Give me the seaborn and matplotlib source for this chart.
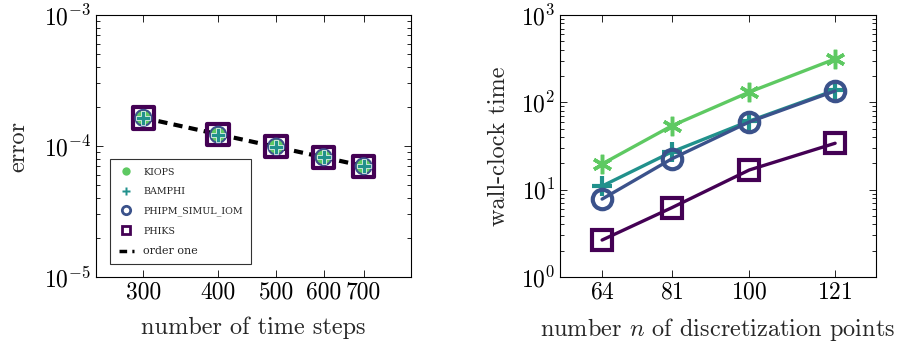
import matplotlib
matplotlib.use("Agg")
import matplotlib.pyplot as plt
from matplotlib.lines import Line2D
from matplotlib.ticker import FixedLocator, NullLocator, FixedFormatter, LogLocator
import seaborn as sns
import pandas as pd

# left panel: error vs number of time steps
steps = [300, 400, 500, 600, 700]
err_kiops = [1.64e-4, 1.22e-4, 0.99e-4, 8.2e-5, 7.0e-5]
err_bamphi = [1.64e-4, 1.22e-4, 0.99e-4, 8.2e-5, 7.0e-5]
err_phipm = [1.64e-4, 1.22e-4, 0.99e-4, 8.2e-5, 7.0e-5]
err_phiks = [1.64e-4, 1.22e-4, 0.99e-4, 8.2e-5, 7.0e-5]
order_one = [1.64e-4, 1.23e-4, 0.984e-4, 8.2e-5, 7.03e-5]

# right panel: wall-clock time vs discretization points
points = [64, 81, 100, 121]
time_kiops = [19.7, 53.7, 131, 314]
time_bamphi = [11.0, 27.0, 61.0, 138]
time_phipm = [7.8, 22.5, 59.6, 135]
time_phiks = [2.65, 6.2, 16.8, 34.0]

names = ["KIOPS", "BAMPHI", "PHIPM_SIMUL_IOM", "PHIKS"]
colors = {"KIOPS": "#5ec962", "BAMPHI": "#21918c",
          "PHIPM_SIMUL_IOM": "#3b528b", "PHIKS": "#440154"}

sns.set_style("ticks")
plt.rcParams["font.family"] = ["cmr10", "DejaVu Serif"]
plt.rcParams["mathtext.fontset"] = "cm"
plt.rcParams["axes.formatter.use_mathtext"] = True
plt.rcParams["axes.unicode_minus"] = False

fig = plt.figure(figsize=(9, 3.44), dpi=100)
ax1 = fig.add_axes([96 / 900, 1 - 277 / 344, 315 / 900, 262 / 344])
ax2 = fig.add_axes([560 / 900, 1 - 277 / 344, 316 / 900, 262 / 344])

for ax in (ax1, ax2):
    for s in ax.spines.values():
        s.set_linewidth(0.8)
        s.set_color("black")
    ax.tick_params(which="both", direction="in", top=True, right=True,
                   labelsize=17, colors="black", width=0.6)
    ax.tick_params(which="major", length=5)
    ax.tick_params(which="minor", length=3)

# ---- left ----
df_err = pd.DataFrame({"steps": steps, "order": order_one})
sns.lineplot(data=df_err, x="steps", y="order", ax=ax1, color="black",
             linewidth=3, linestyle=(0, (2.2, 1.5)), zorder=2)
sns.scatterplot(x=steps, y=err_phiks, ax=ax1, marker="s", s=240,
                facecolor="none", edgecolor=colors["PHIKS"],
                linewidth=3, zorder=3)
sns.scatterplot(x=steps, y=err_phipm, ax=ax1, marker="o", s=170,
                color=colors["PHIPM_SIMUL_IOM"], edgecolor="none", zorder=3)
sns.scatterplot(x=steps, y=err_kiops, ax=ax1, marker="o", s=100,
                color=colors["KIOPS"], edgecolor="none", zorder=4)
sns.scatterplot(x=steps, y=err_bamphi, ax=ax1, marker="P", s=90,
                color=colors["BAMPHI"], edgecolor="white", linewidth=0.5, zorder=5)

ax1.set_xscale("log")
ax1.set_yscale("log")
ax1.set_xlim(250, 840)
ax1.set_ylim(1e-5, 1e-3)
ax1.xaxis.set_major_locator(FixedLocator(steps))
ax1.xaxis.set_major_formatter(FixedFormatter([str(v) for v in steps]))
ax1.xaxis.set_minor_locator(NullLocator())
ax1.yaxis.set_major_locator(LogLocator(base=10, numticks=10))
ax1.yaxis.set_minor_locator(LogLocator(base=10, subs=range(2, 10), numticks=10))
ax1.set_xlabel("number of time steps", fontsize=17.5, labelpad=9)
ax1.set_ylabel("error", fontsize=17.5, labelpad=10)

handles = [
    Line2D([], [], linestyle="none", marker="o", markersize=6,
           color=colors["KIOPS"], markeredgecolor="none"),
    Line2D([], [], linestyle="none", marker="P", markersize=6,
           color=colors["BAMPHI"], markeredgecolor="none"),
    Line2D([], [], linestyle="none", marker="o", markersize=6,
           markerfacecolor="white", markeredgecolor=colors["PHIPM_SIMUL_IOM"],
           markeredgewidth=2),
    Line2D([], [], linestyle="none", marker="s", markersize=6,
           markerfacecolor="white", markeredgecolor=colors["PHIKS"],
           markeredgewidth=2),
    Line2D([], [], color="black", linewidth=2.5, linestyle=(0, (2.2, 1.5))),
]
labels = ["KIOPS", "BAMPHI", "PHIPM_SIMUL_IOM", "PHIKS", "order one"]
leg = ax1.legend(handles, labels, loc="lower left",
                 bbox_to_anchor=(0.03, 0.03), frameon=True,
                 prop={"family": "DejaVu Serif", "size": 6.8},
                 fancybox=False, edgecolor="black", handlelength=1.6,
                 labelspacing=1.1, borderpad=0.9, handletextpad=1.0)
leg.get_frame().set_linewidth(0.8)
leg.get_texts()[-1].set_fontsize(8)

# ---- right ----
series = [("KIOPS", time_kiops, (6, 2, 0), 14, 2.5),
          ("BAMPHI", time_bamphi, "+", 15, 3.0),
          ("PHIPM_SIMUL_IOM", time_phipm, "o", 14, 3.0),
          ("PHIKS", time_phiks, "s", 14, 3.0)]
for name, vals, mk, ms, mew in series:
    df = pd.DataFrame({"n": points, "t": vals})
    sns.lineplot(data=df, x="n", y="t", ax=ax2, color=colors[name],
                 linewidth=2.4, marker=mk, markersize=ms,
                 markerfacecolor="none", markeredgecolor=colors[name],
                 markeredgewidth=mew)

ax2.set_yscale("log")
ax2.set_xlim(53.7, 131)
ax2.set_ylim(1, 1e3)
ax2.xaxis.set_major_locator(FixedLocator(points))
ax2.xaxis.set_minor_locator(NullLocator())
ax2.yaxis.set_major_locator(LogLocator(base=10, numticks=10))
ax2.yaxis.set_minor_locator(LogLocator(base=10, subs=range(2, 10), numticks=10))
ax2.set_xlabel("number $n$ of discretization points", fontsize=17.5, labelpad=9)
ax2.set_ylabel("wall-clock time", fontsize=17.5, labelpad=8)

fig.savefig("out.png", dpi=100)
